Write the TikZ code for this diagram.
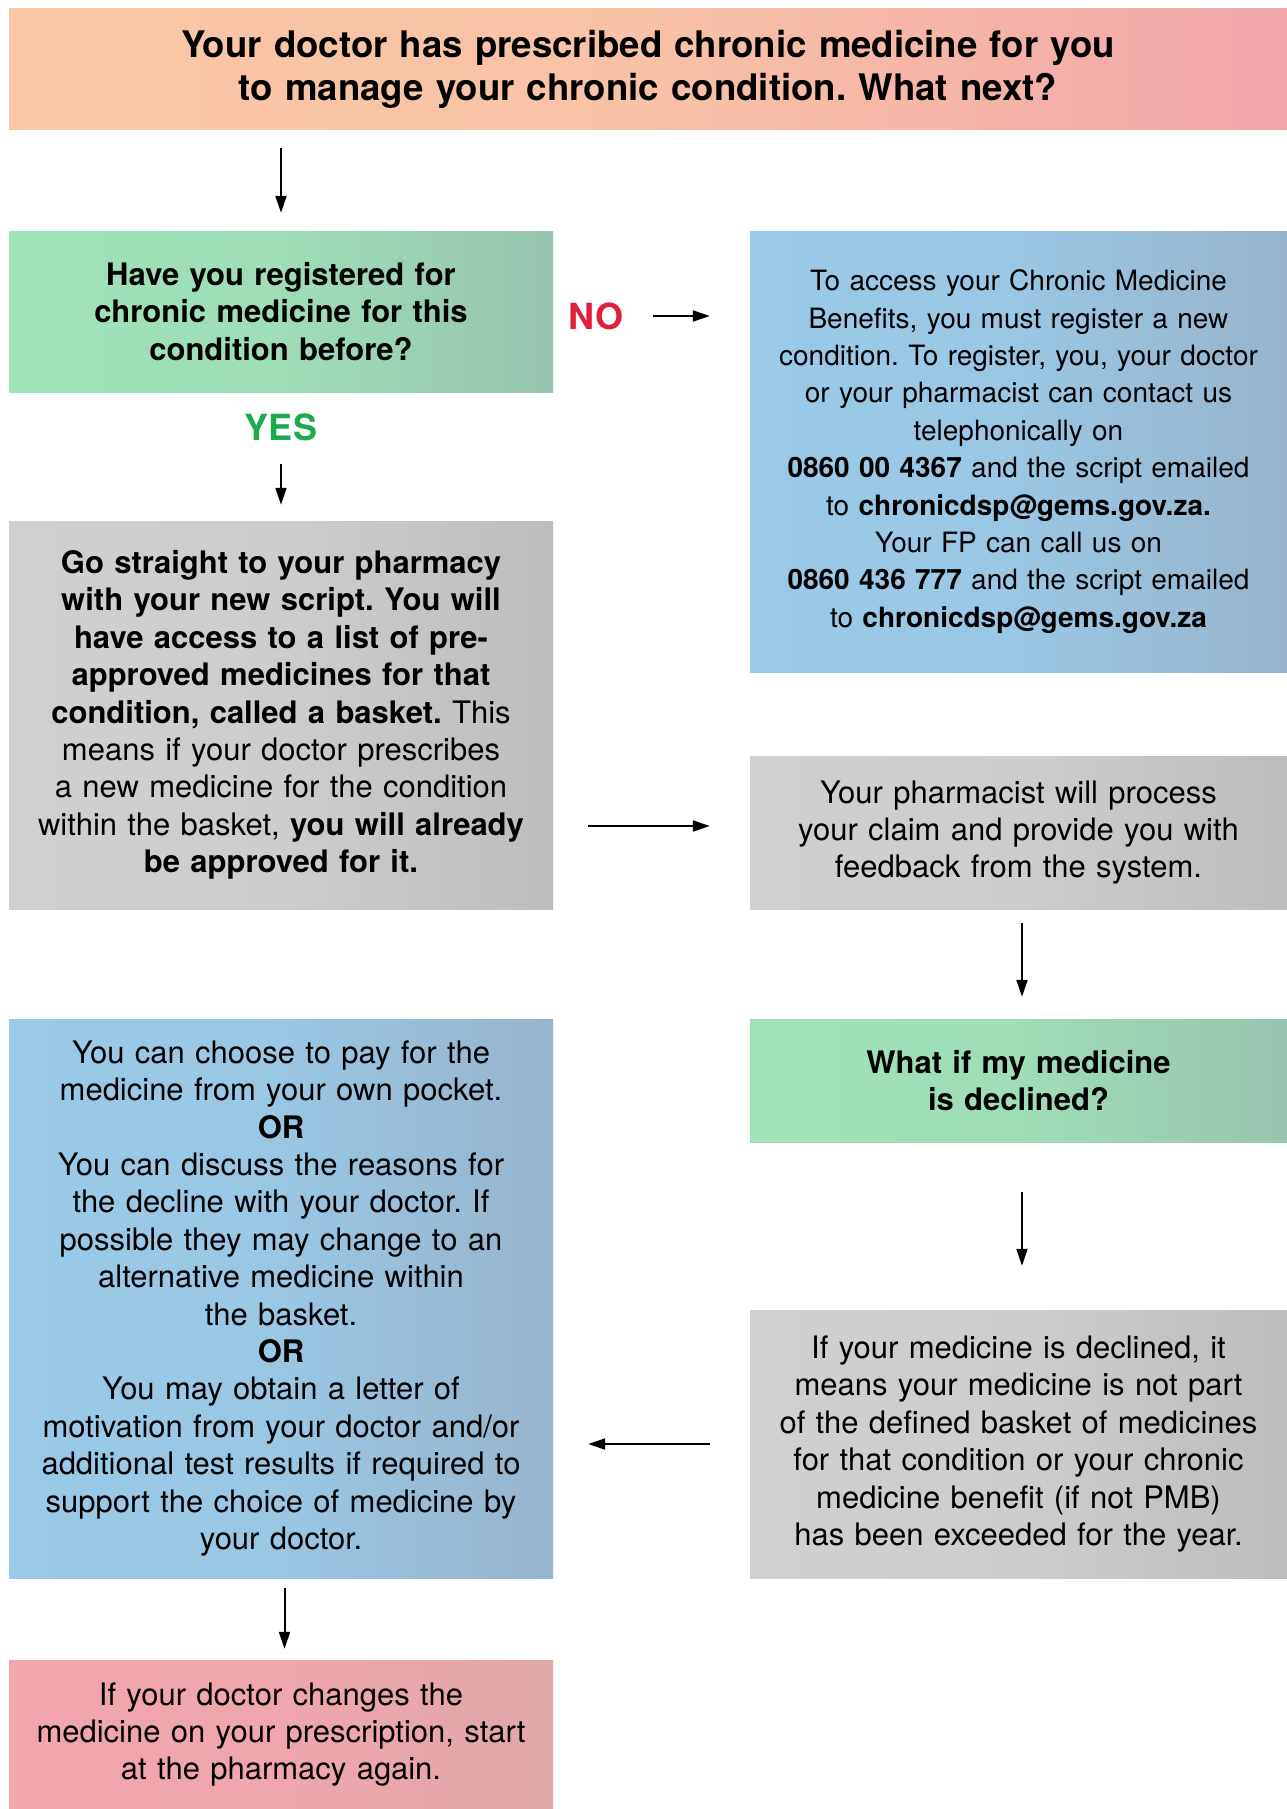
\documentclass[tikz,border=0pt]{standalone}
\usepackage{fontspec}
\setmainfont{TeX Gyre Heros}
\usetikzlibrary{arrows.meta}
\frenchspacing
\definecolor{peachL}{RGB}{249,199,166}
\definecolor{peachR}{RGB}{242,166,170}
\definecolor{greenL}{RGB}{160,226,184}
\definecolor{greenR}{RGB}{152,196,176}
\definecolor{blueL}{RGB}{154,202,232}
\definecolor{blueR}{RGB}{152,180,204}
\definecolor{grayL}{RGB}{207,208,210}
\definecolor{grayR}{RGB}{189,189,189}
\definecolor{pinkL}{RGB}{242,166,174}
\definecolor{pinkR}{RGB}{224,168,168}
\definecolor{noRed}{RGB}{227,30,58}
\definecolor{yesGreen}{RGB}{28,170,76}
\newcommand\bodyfnt{\fontsize{31}{37.4}\selectfont}
\newcommand\smallbodyfnt{\fontsize{28}{37.4}\selectfont}
\newcommand\titlefnt{\fontsize{36.6}{43}\selectfont\bfseries}
\tikzset{
  box/.style={inner sep=0pt, align=center, draw=none},
  shpeach/.style={left color=peachL, right color=peachR, middle color=peachL!85!peachR},
  shgreen/.style={left color=greenL, right color=greenR, middle color=greenL!85!greenR},
  shblue/.style={left color=blueL, right color=blueR, middle color=blueL!85!blueR},
  shgray/.style={left color=grayL, right color=grayR, middle color=grayL!85!grayR},
  shpink/.style={left color=pinkL, right color=pinkR, middle color=pinkL!85!pinkR},
  arr/.style={line width=2pt, -{Triangle[length=17pt,width=11pt]}},
  lbl/.style={inner sep=0pt, font=\fontsize{36}{40}\selectfont\bfseries}
}
\begin{document}
\begin{tikzpicture}[x=1pt,y=-1pt]
\useasboundingbox (0,0) rectangle (1287,1809);
\fill[white] (0,0) rectangle (1287,1809);

\node[box, shpeach, minimum width=1278pt, minimum height=121pt, text width=1200pt, font=\titlefnt] (title) at (648,69.5)
  {Your doctor has prescribed chronic medicine for you\\to manage your chronic condition. What next?};

\node[box, shgreen, minimum width=544pt, minimum height=161pt, text width=520pt, font=\bodyfnt\bfseries] (g1) at (281,311.5)
  {Have you registered for\\chronic medicine for this\\condition before?};

\node[lbl, text=noRed] (no) at (596,316) {NO};
\node[lbl, text=yesGreen] (yes) at (281,427) {YES};

\node[box, shblue, minimum width=537pt, minimum height=441pt, text width=525pt, font=\smallbodyfnt] (b1) at (1018.5,451.5)
  {To access your Chronic Medicine\\Benefits, you must register a new\\condition. To register, you, your doctor\\or your pharmacist can contact us\\telephonically on\\\textbf{0860 00 4367} and the script emailed\\to \textbf{chronicdsp@gems.gov.za.}\\Your FP can call us on\\\textbf{0860 436 777} and the script emailed\\to \textbf{chronicdsp@gems.gov.za}};

\node[box, shgray, minimum width=544pt, minimum height=388pt, text width=530pt, font=\bodyfnt] (gr1) at (281,715)
  {\textbf{Go straight to your pharmacy}\\\textbf{with your new script. You will}\\\textbf{have access to a list of pre-}\\\textbf{approved medicines for that}\\\textbf{condition, called a basket.} This\\means if your doctor prescribes\\a new medicine for the condition\\within the basket, \textbf{you will already}\\\textbf{be approved for it.}};

\node[box, shgray, minimum width=537pt, minimum height=153pt, text width=525pt, font=\bodyfnt] (gr2) at (1018.5,832.5)
  {Your pharmacist will process\\your claim and provide you with\\feedback from the system.};

\node[box, shgreen, minimum width=537pt, minimum height=123pt, text width=525pt, font=\bodyfnt\bfseries] (g2) at (1018.5,1080.5)
  {What if my medicine\\is declined?};

\node[box, shgray, minimum width=537pt, minimum height=268pt, text width=525pt, font=\bodyfnt] (gr3) at (1018.5,1444)
  {If your medicine is declined, it\\means your medicine is not part\\of the defined basket of medicines\\for that condition or your chronic\\medicine benefit (if not PMB)\\has been exceeded for the year.};

\node[box, shblue, minimum width=544pt, minimum height=559pt, text width=530pt, font=\bodyfnt] (b2) at (281,1298.5)
  {You can choose to pay for the\\medicine from your own pocket.\\\textbf{OR}\\You can discuss the reasons for\\the decline with your doctor. If\\possible they may change to an\\alternative medicine within\\the basket.\\\textbf{OR}\\You may obtain a letter of\\motivation from your doctor and/or\\additional test results if required to\\support the choice of medicine by\\your doctor.};

\node[box, shpink, minimum width=544pt, minimum height=149pt, text width=530pt, font=\bodyfnt] (pk) at (281,1734.5)
  {If your doctor changes the\\medicine on your prescription, start\\at the pharmacy again.};

% connectors
\draw[arr, shorten <=18pt, shorten >=18pt] (title.south -| g1.north) -- (g1.north);
\draw[arr, shorten <=30pt, shorten >=40pt] (no.east) -- (no.east -| b1.west);
\draw[arr, shorten <=72pt, shorten >=16pt] (g1.south) -- (gr1.north);
\draw[arr, shorten <=35pt, shorten >=40pt] ([yshift=6.5pt]gr1.east |- gr2.west) -- ([yshift=6.5pt]gr2.west);
\draw[arr, shorten <=14pt, shorten >=22pt] ([xshift=3.5pt]gr2.south) -- ([xshift=3.5pt]g2.north);
\draw[arr, shorten <=50pt, shorten >=44pt] ([xshift=3.5pt]g2.south) -- ([xshift=3.5pt]gr3.north);
\draw[arr, shorten <=40pt, shorten >=35pt] (gr3.west) -- (gr3.west -| b2.east);
\draw[arr, shorten <=10pt, shorten >=11pt] ([xshift=3.5pt]b2.south) -- ([xshift=3.5pt]pk.north);
\end{tikzpicture}
\end{document}
